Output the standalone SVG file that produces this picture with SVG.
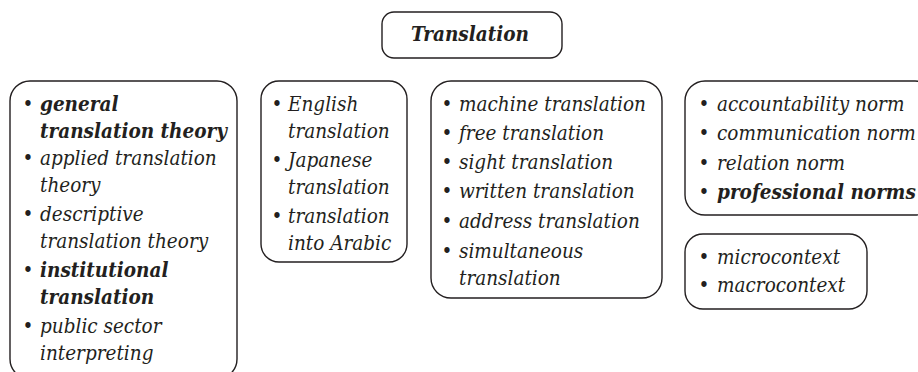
<svg xmlns="http://www.w3.org/2000/svg" width="918" height="372" viewBox="0 0 918 372">
<style>
.box{fill:#fff;stroke:#231f20;stroke-width:1.4}
.t{font-family:'DejaVu Serif Condensed','DejaVu Serif','Liberation Serif',serif;font-size:20.5px;fill:#231f20}
.it{font-style:italic}
.bi{font-style:italic;font-weight:bold}
.bu{text-anchor:middle}
</style>
<rect width="918" height="372" fill="#fff"/>
<g id="connectors"></g>
<g id="root">
<rect class="box" x="382" y="12" width="180" height="46" rx="12"/>
<text class="t bi" x="470" y="41" text-anchor="middle">Translation</text>
</g>
<g id="theory">
<rect class="box" x="10" y="81" width="227" height="298" rx="20"/>
<text class="t bu" x="28" y="111">•</text>
<text class="t bi" x="40" y="111">general</text>
<text class="t bi" x="40" y="138">translation theory</text>
<text class="t bu" x="28" y="165">•</text>
<text class="t it" x="40" y="165">applied translation</text>
<text class="t it" x="40" y="192">theory</text>
<text class="t bu" x="28" y="221">•</text>
<text class="t it" x="40" y="221">descriptive</text>
<text class="t it" x="40" y="248">translation theory</text>
<text class="t bu" x="28" y="277">•</text>
<text class="t bi" x="40" y="277">institutional</text>
<text class="t bi" x="40" y="304">translation</text>
<text class="t bu" x="28" y="333">•</text>
<text class="t it" x="40" y="333">public sector</text>
<text class="t it" x="40" y="360">interpreting</text>
</g>
<g id="languages">
<rect class="box" x="261" y="81" width="146" height="181" rx="18"/>
<text class="t bu" x="277" y="111">•</text>
<text class="t it" x="288" y="111">English</text>
<text class="t it" x="288" y="138">translation</text>
<text class="t bu" x="277" y="167">•</text>
<text class="t it" x="288" y="167">Japanese</text>
<text class="t it" x="288" y="194">translation</text>
<text class="t bu" x="277" y="223">•</text>
<text class="t it" x="288" y="223">translation</text>
<text class="t it" x="288" y="250">into Arabic</text>
</g>
<g id="modes">
<rect class="box" x="431" y="81" width="231" height="217" rx="20"/>
<text class="t bu" x="447" y="111">•</text>
<text class="t it" x="459" y="111">machine translation</text>
<text class="t bu" x="447" y="140">•</text>
<text class="t it" x="459" y="140">free translation</text>
<text class="t bu" x="447" y="169">•</text>
<text class="t it" x="459" y="169">sight translation</text>
<text class="t bu" x="447" y="198">•</text>
<text class="t it" x="459" y="198">written translation</text>
<text class="t bu" x="447" y="228">•</text>
<text class="t it" x="459" y="228">address translation</text>
<text class="t bu" x="447" y="258">•</text>
<text class="t it" x="459" y="258">simultaneous</text>
<text class="t it" x="459" y="285">translation</text>
</g>
<g id="norms">
<rect class="box" x="685" y="81" width="250" height="134" rx="20"/>
<text class="t bu" x="704" y="111">•</text>
<text class="t it" x="717" y="111">accountability norm</text>
<text class="t bu" x="704" y="140">•</text>
<text class="t it" x="717" y="140">communication norm</text>
<text class="t bu" x="704" y="170">•</text>
<text class="t it" x="717" y="170">relation norm</text>
<text class="t bu" x="704" y="199">•</text>
<text class="t bi" x="717" y="199">professional norms</text>
</g>
<g id="context">
<rect class="box" x="685" y="234" width="182" height="75" rx="18"/>
<text class="t bu" x="704" y="264">•</text>
<text class="t it" x="717" y="264">microcontext</text>
<text class="t bu" x="704" y="292">•</text>
<text class="t it" x="717" y="292">macrocontext</text>
</g>
</svg>
